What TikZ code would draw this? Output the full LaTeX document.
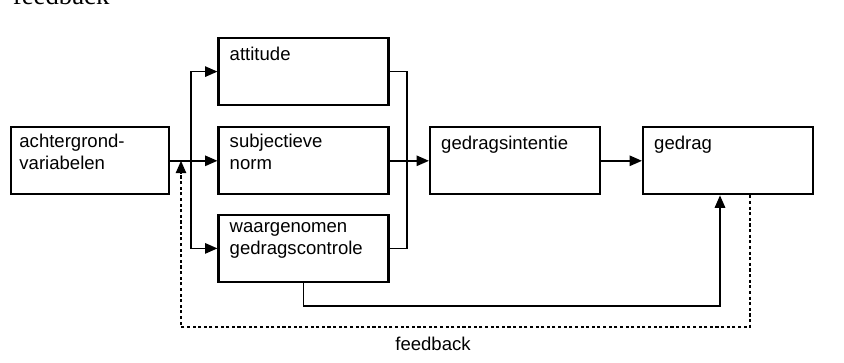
\documentclass[tikz,border=0pt]{standalone}
\usepackage{fontspec}
\setsansfont{Liberation Sans}
\newfontfamily\capfont{Liberation Serif}
\usepackage{tikz}
\usetikzlibrary{arrows.meta}
\newcommand{\boxfont}{\sffamily\fontsize{13.2}{15.6}\selectfont}

\begin{document}
\begin{tikzpicture}
                \tikzset{box/.style = {shape=rectangle,draw,line width=1.5pt,minimum width=4.25cm,minimum height=1.675cm}}
                \tikzset{txt/.style = {anchor=north west,inner sep=0pt,align=left,font=\boxfont,xshift=0.3cm,yshift=-0.2cm,execute at begin node=\strut}}
                \tikzset{edge/.style = {-{Triangle[length=3.1mm,width=2.6mm]},line width=1.15pt}}
                \tikzset{feedback/.style = {edge,dash pattern=on 2.2pt off 1.8pt}}
                \tikzset{line/.style = {line width=1.15pt}}

                \useasboundingbox (0,0) rectangle (21.1,9.05);
                \clip (0,0) rectangle (21.1,9.05);

                \node[anchor=base west,font=\capfont\fontsize{19}{23}\selectfont] (cap) at (0.2,8.95) {feedback};

                \node[box,minimum width=3.95cm,label={[txt,xshift=-0.07cm]north west:achtergrond-\\variabelen}] (bg) at (2.25,5.03) {};
                \node[box,label={[txt]north west:attitude}] (att) at (7.5875,7.26) {};
                \node[box,label={[txt]north west:subjectieve\\norm}] (norm) at (7.5875,5.03) {};
                \node[box,label={[txt]north west:waargenomen\\gedragscontrole}] (ctrl) at (7.5875,2.84) {};
                \node[box,label={[txt]north west:gedragsintentie}] (int) at (12.875,5.03) {};
                \node[box,label={[txt]north west:gedrag}] (ged) at (18.2,5.03) {};
                \node[font=\boxfont] (fb) at (10.825,0.45) {feedback};

                \coordinate (split) at (4.775,5.03);
                \coordinate (merge) at (10.175,5.03);
                \coordinate (low) at (18.0,1.4);
                \coordinate (fbr) at (18.75,0.875);
                \coordinate (fbl) at (4.525,0.875);

                \draw[line] (bg.east) -- (split);
                \draw[edge] (split) -- (norm.west);
                \draw[edge] (split) |- (att.west);
                \draw[edge] (split) |- (ctrl.west);
                \draw[line] (att.east) -| (merge);
                \draw[line] (ctrl.east) -| (merge);
                \draw[edge] (norm.east) -- (int.west);
                \draw[edge] (int.east) -- (ged.west);
                \draw[edge] (ctrl.south) |- (low) -- (low |- ged.south);
                \draw[feedback] (fbr |- ged.south) |- (fbl) -- (fbl |- bg.east);

        \end{tikzpicture}
\end{document}
